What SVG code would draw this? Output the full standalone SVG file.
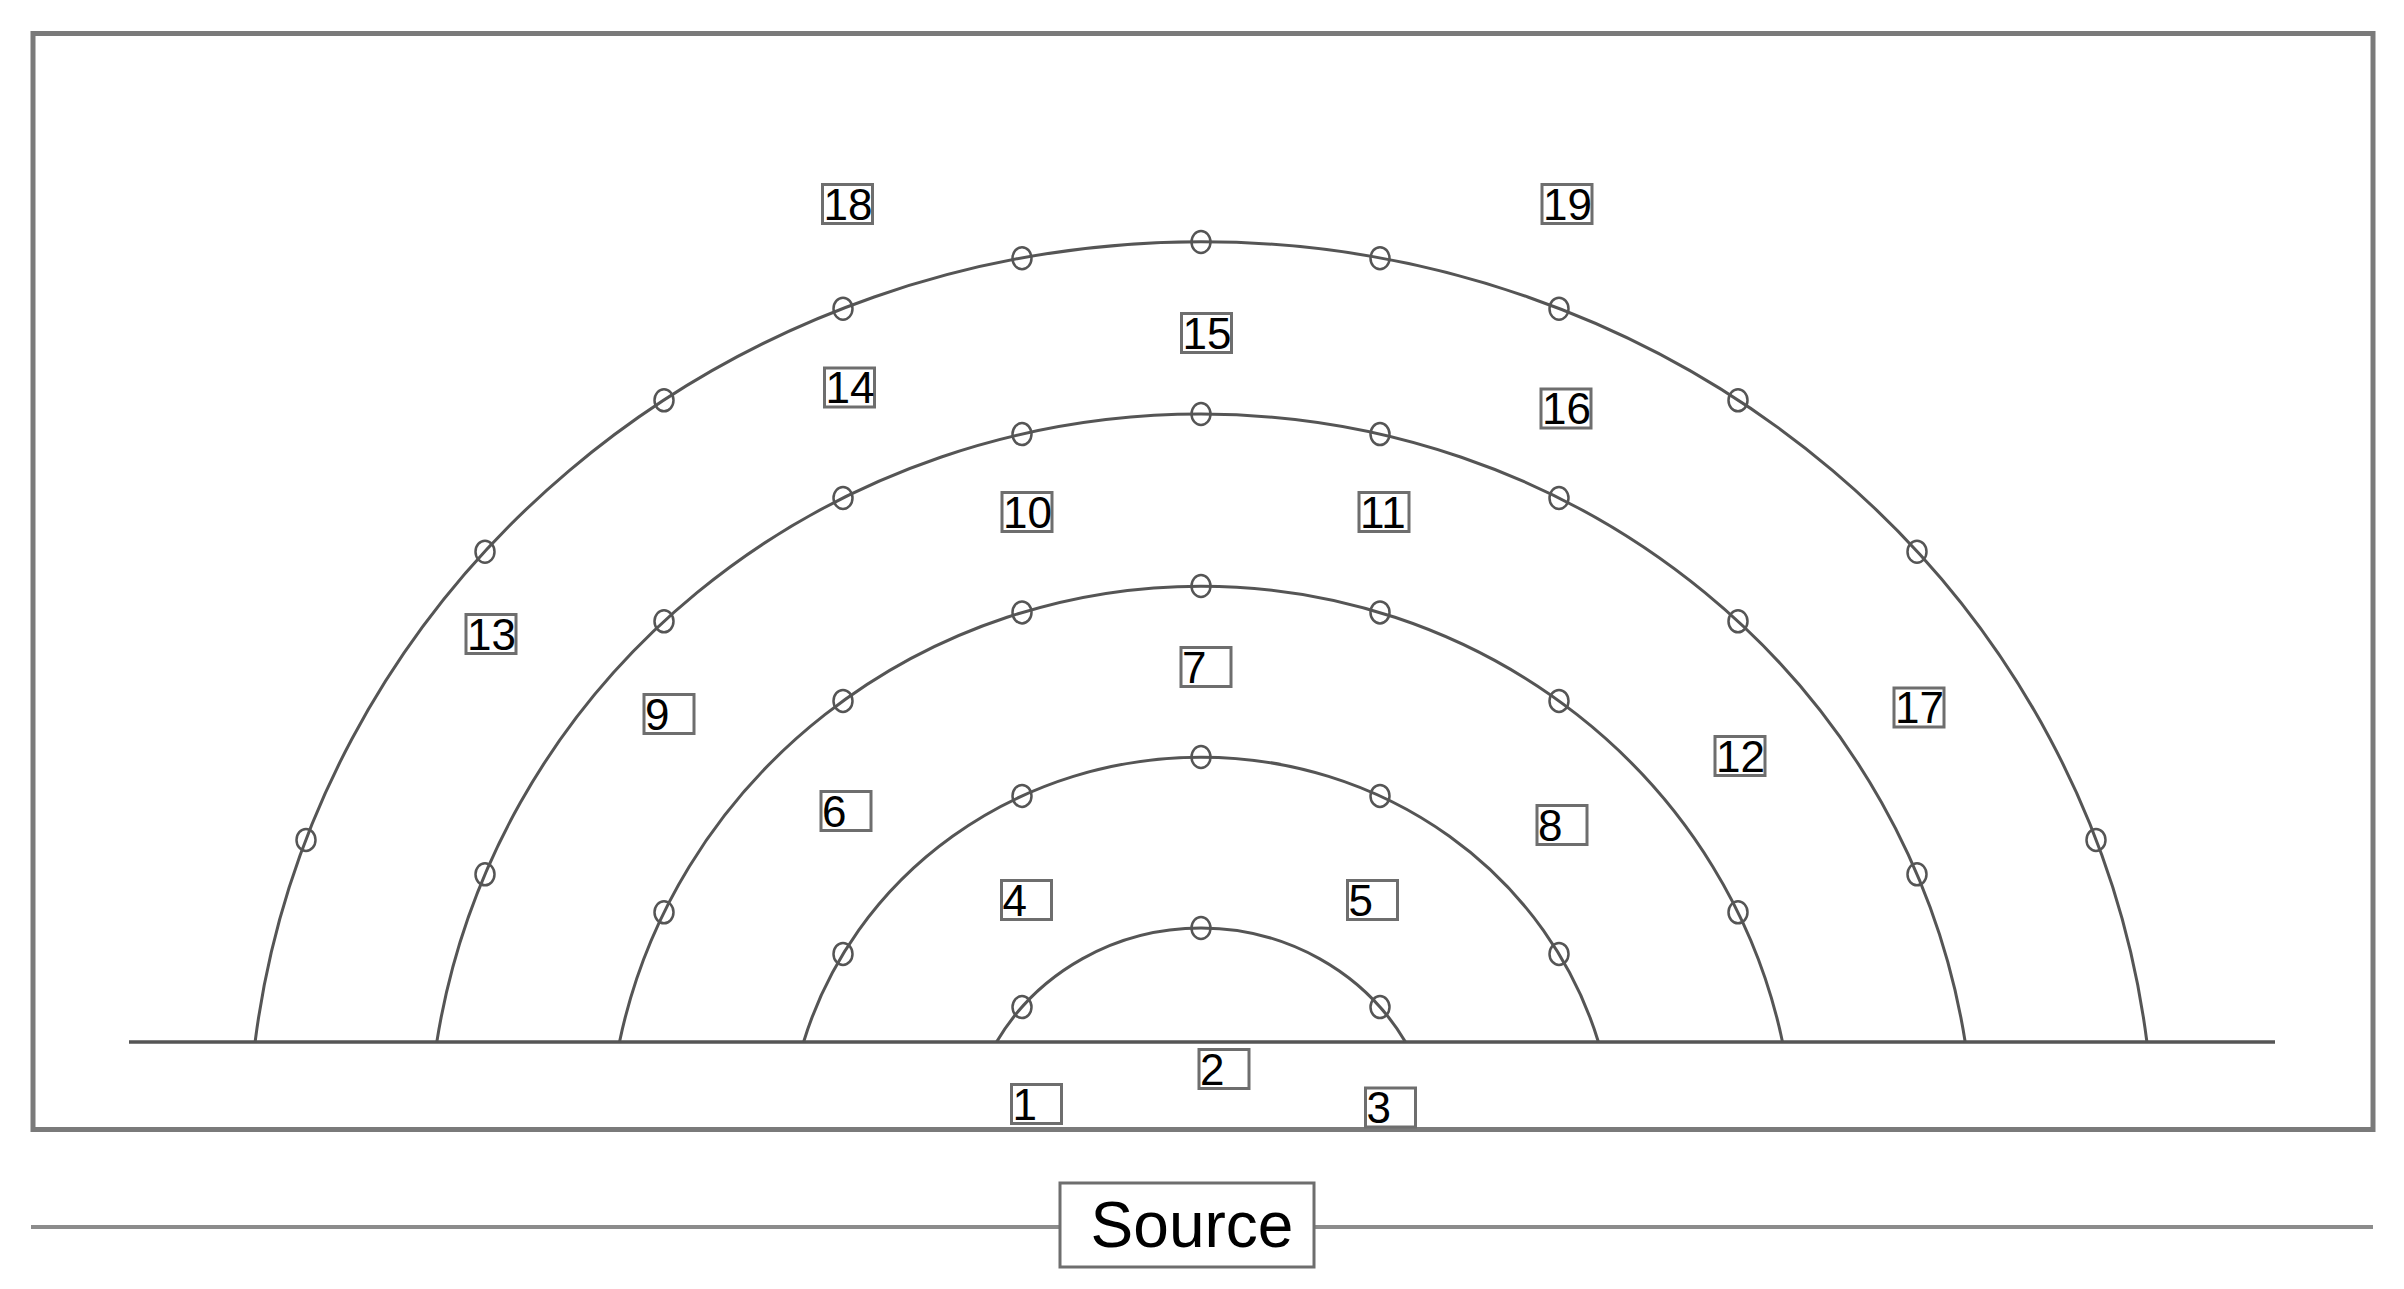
<svg xmlns="http://www.w3.org/2000/svg" width="2404" height="1289" viewBox="0 0 2404 1289">
<style>
.frame{fill:none;stroke:#7a7a7a;stroke-width:5}
.arc{fill:none;stroke:#555;stroke-width:3}
.base{stroke:#555;stroke-width:3.5}
.src{stroke:#8c8c8c;stroke-width:4}
.m{fill:none;stroke:#555;stroke-width:2.5}
.lb rect{fill:#fff;stroke:#6e6e6e;stroke-width:3}
.lb text{font-family:"Liberation Sans",Arial,sans-serif;font-size:44px;fill:#000}
.srcbox rect{fill:#fff;stroke:#6e6e6e;stroke-width:3}
.srcbox text{font-family:"Liberation Sans",Arial,sans-serif;font-size:64px;fill:#000}
</style>
<defs>
<ellipse id="mk" class="m" cx="0" cy="0" rx="9.5" ry="11"/>
</defs>
<rect width="2404" height="1289" fill="#fff"/>
<rect class="frame" x="33" y="33.5" width="2340" height="1096"/>
<g id="connectors">
<line class="base" x1="129" y1="1042" x2="2275" y2="1042"/>
<path class="arc" d="M 996.5 1042 A 234.9 224.4 0 0 1 1405.5 1042"/>
<path class="arc" d="M 803.6 1042 A 413.9 395.4 0 0 1 1598.4 1042"/>
<path class="arc" d="M 619.5 1042 A 592.9 566.4 0 0 1 1782.5 1042"/>
<path class="arc" d="M 436.8 1042 A 772.9 738.4 0 0 1 1965.2 1042"/>
<path class="arc" d="M 255.1 1042 A 952.9 910.4 0 0 1 2146.9 1042"/>
<line class="src" x1="31" y1="1227" x2="1060" y2="1227"/>
<line class="src" x1="1314" y1="1227" x2="2373" y2="1227"/>
</g>
<g id="markers">
<use href="#mk" x="1022" y="1007.1"/><use href="#mk" x="1201" y="928"/><use href="#mk" x="1380" y="1007.1"/>
<use href="#mk" x="843" y="953.9"/><use href="#mk" x="1022" y="795.9"/><use href="#mk" x="1201" y="757"/><use href="#mk" x="1380" y="795.9"/><use href="#mk" x="1559" y="953.9"/>
<use href="#mk" x="664" y="912.3"/><use href="#mk" x="843" y="700.9"/><use href="#mk" x="1022" y="612.4"/><use href="#mk" x="1201" y="586"/><use href="#mk" x="1380" y="612.4"/><use href="#mk" x="1559" y="700.9"/><use href="#mk" x="1738" y="912.3"/>
<use href="#mk" x="485" y="874.3"/><use href="#mk" x="664" y="621.3"/><use href="#mk" x="843" y="498"/><use href="#mk" x="1022" y="434.1"/><use href="#mk" x="1201" y="414"/><use href="#mk" x="1380" y="434.1"/><use href="#mk" x="1559" y="498"/><use href="#mk" x="1738" y="621.3"/><use href="#mk" x="1917" y="874.3"/>
<use href="#mk" x="306" y="839.9"/><use href="#mk" x="485" y="551.7"/><use href="#mk" x="664" y="400.3"/><use href="#mk" x="843" y="308.7"/><use href="#mk" x="1022" y="258.2"/><use href="#mk" x="1201" y="242"/><use href="#mk" x="1380" y="258.2"/><use href="#mk" x="1559" y="308.7"/><use href="#mk" x="1738" y="400.3"/><use href="#mk" x="1917" y="551.7"/><use href="#mk" x="2096" y="839.9"/>
</g>
<g id="label-1" class="lb" transform="translate(1011.5,1084.5)"><rect width="50" height="39"/><text x="1" y="35">1</text></g>
<g id="label-2" class="lb" transform="translate(1199,1049.5)"><rect width="50" height="39"/><text x="1" y="35">2</text></g>
<g id="label-3" class="lb" transform="translate(1365.5,1088)"><rect width="50" height="39"/><text x="1" y="35">3</text></g>
<g id="label-4" class="lb" transform="translate(1001.5,880.5)"><rect width="50" height="39"/><text x="1" y="35">4</text></g>
<g id="label-5" class="lb" transform="translate(1347.5,880.5)"><rect width="50" height="39"/><text x="1" y="35">5</text></g>
<g id="label-6" class="lb" transform="translate(821,791.5)"><rect width="50" height="39"/><text x="1" y="35">6</text></g>
<g id="label-7" class="lb" transform="translate(1181,647.5)"><rect width="50" height="39"/><text x="1" y="35">7</text></g>
<g id="label-8" class="lb" transform="translate(1537,805.5)"><rect width="50" height="39"/><text x="1" y="35">8</text></g>
<g id="label-9" class="lb" transform="translate(644,694.5)"><rect width="50" height="39"/><text x="1" y="35">9</text></g>
<g id="label-10" class="lb" transform="translate(1002,492.5)"><rect width="50" height="39"/><text x="1" y="35">10</text></g>
<g id="label-11" class="lb" transform="translate(1359,492.5)"><rect width="50" height="39"/><text x="1" y="35">11</text></g>
<g id="label-12" class="lb" transform="translate(1715,736.5)"><rect width="50" height="39"/><text x="1" y="35">12</text></g>
<g id="label-13" class="lb" transform="translate(466,614.5)"><rect width="50" height="39"/><text x="1" y="35">13</text></g>
<g id="label-14" class="lb" transform="translate(824.5,368)"><rect width="50" height="39"/><text x="1" y="35">14</text></g>
<g id="label-15" class="lb" transform="translate(1181.5,313.5)"><rect width="50" height="39"/><text x="1" y="35">15</text></g>
<g id="label-16" class="lb" transform="translate(1541,389)"><rect width="50" height="39"/><text x="1" y="35">16</text></g>
<g id="label-17" class="lb" transform="translate(1894,688)"><rect width="50" height="39"/><text x="1" y="35">17</text></g>
<g id="label-18" class="lb" transform="translate(822.5,184.5)"><rect width="50" height="39"/><text x="1" y="35">18</text></g>
<g id="label-19" class="lb" transform="translate(1542,184.5)"><rect width="50" height="39"/><text x="1" y="35">19</text></g>
<g id="source" class="srcbox"><rect x="1060" y="1183" width="254" height="84"/><text x="1192" y="1247" text-anchor="middle">Source</text></g>
</svg>
